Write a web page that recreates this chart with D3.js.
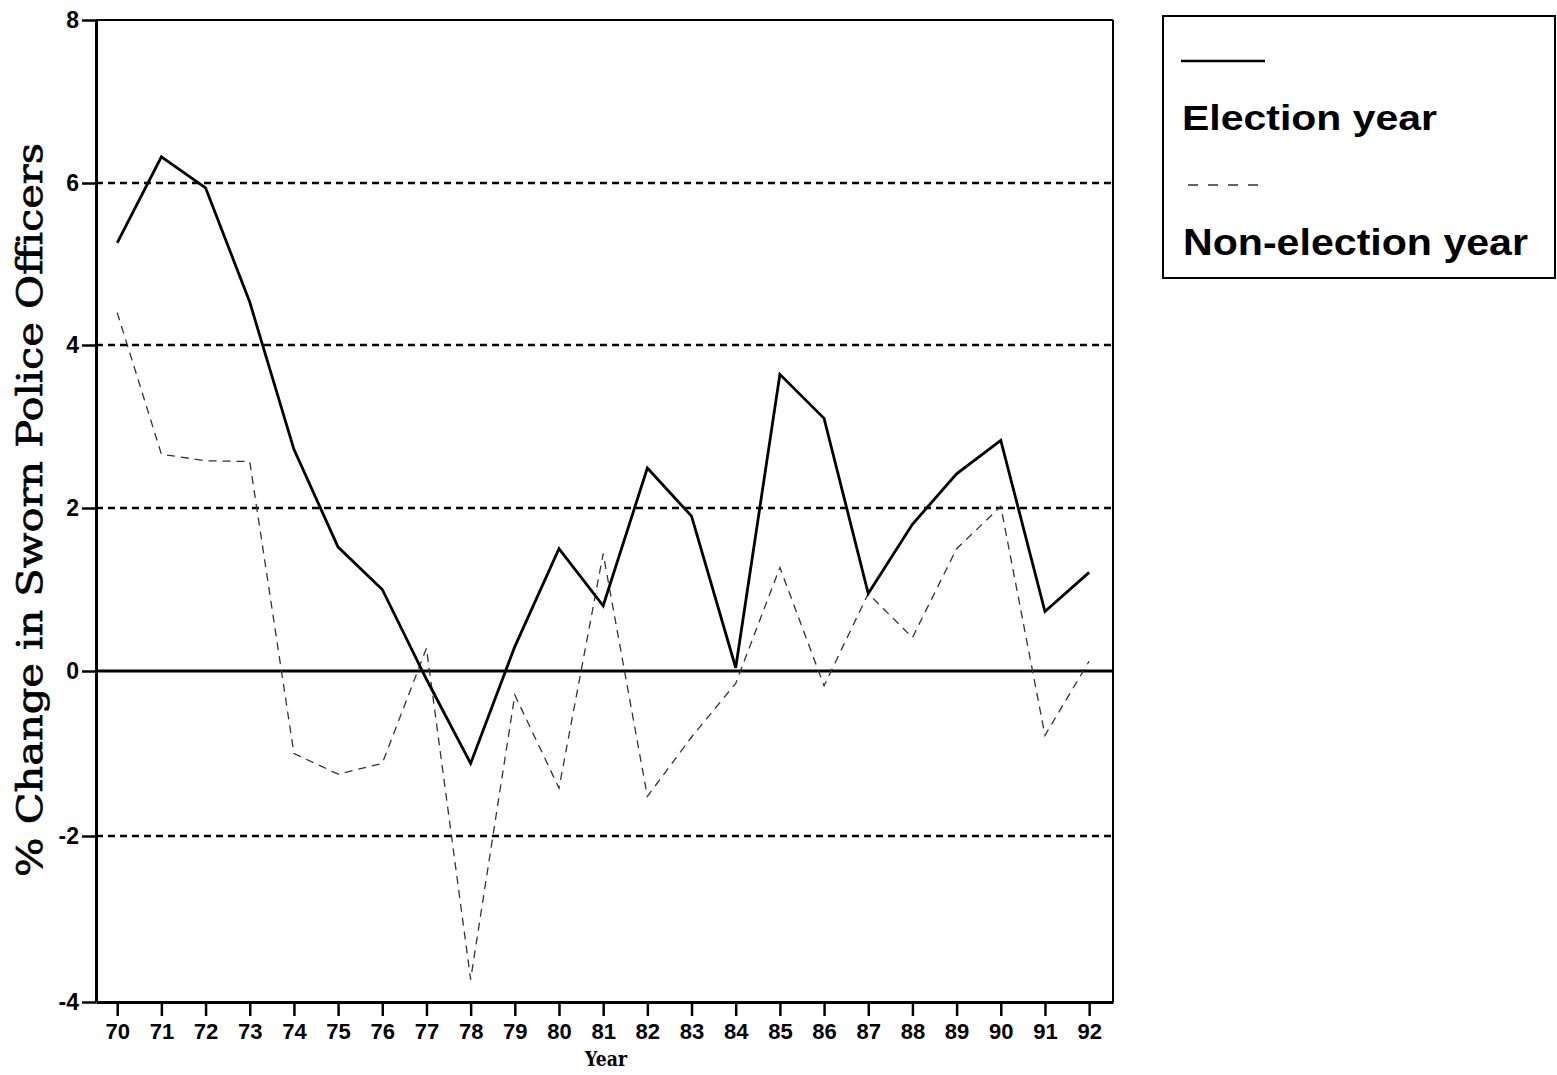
<!DOCTYPE html>
<html>
<head>
<meta charset="utf-8">
<script src="https://cdn.jsdelivr.net/npm/d3@7"></script>
<style>
  html, body { margin: 0; padding: 0; background: #fff; }
  svg { display: block; }
</style>
</head>
<body>
<svg id="chart" width="1557" height="1075"></svg>
<script>
// ---- data ----
const years = [70,71,72,73,74,75,76,77,78,79,80,81,82,83,84,85,86,87,88,89,90,91,92];
const electionYear = [5.26,6.32,5.94,4.53,2.72,1.52,1.0,-0.1,-1.12,0.3,1.5,0.8,2.49,1.9,0.04,3.64,3.1,0.95,1.8,2.42,2.83,0.73,1.21];
const nonElectionYear = [4.4,2.66,2.58,2.57,-1.0,-1.25,-1.12,0.28,-3.73,-0.29,-1.42,1.44,-1.52,-0.8,-0.15,1.27,-0.18,0.95,0.41,1.5,2.02,-0.78,0.12];
const yTicks = [-4,-2,0,2,4,6,8];
const gridValues = [-2,2,4,6];
const seriesNames = ["Election year", "Non-election year"];
const yTitle = "% Change in Sworn Police Officers";
const xTitle = "Year";

// ---- layout ----
const svg = d3.select("#chart");
const pLeft = 96, pRight = 1113, pTop = 20, pBottom = 1002;

const x = d3.scaleLinear().domain([69.52, 92.54]).range([pLeft, pRight]);
const y = d3.scaleLinear().domain([-4,-2,0,2,4,6,8]).range([1002,836,671,508,345,183,20]);

// gridlines (dotted)
svg.append("g").selectAll("line").data(gridValues).join("line")
  .attr("x1", pLeft).attr("x2", pRight)
  .attr("y1", d => y(d)).attr("y2", d => y(d))
  .attr("stroke", "#000").attr("stroke-width", 2.6)
  .attr("stroke-dasharray", "7,5");

// zero line
svg.append("line")
  .attr("x1", pLeft).attr("x2", pRight)
  .attr("y1", y(0)).attr("y2", y(0))
  .attr("stroke", "#000").attr("stroke-width", 3);

// frame
svg.append("line").attr("x1", pLeft).attr("x2", pRight).attr("y1", pTop).attr("y2", pTop)
  .attr("stroke", "#000").attr("stroke-width", 2);
svg.append("line").attr("x1", pRight).attr("x2", pRight).attr("y1", pTop).attr("y2", pBottom)
  .attr("stroke", "#000").attr("stroke-width", 2);

const fmt = d => String(d);

// y axis
const yAxis = d3.axisLeft(y).tickValues(yTicks).tickSize(14).tickSizeOuter(0).tickPadding(3).tickFormat(fmt);
const gy = svg.append("g").attr("transform", `translate(${pLeft},0)`).call(yAxis);
gy.select(".domain").attr("stroke-width", 3);
gy.selectAll(".tick line").attr("stroke-width", 2.5);
gy.selectAll(".tick text").attr("font-family", "Liberation Sans, Arial, sans-serif")
  .attr("font-size", 23).attr("font-weight", "bold").attr("fill", "#000");

// x axis
const xAxis = d3.axisBottom(x).tickValues(years).tickSize(14).tickSizeOuter(0).tickPadding(7).tickFormat(fmt);
const gx = svg.append("g").attr("transform", `translate(0,${pBottom})`).call(xAxis);
gx.select(".domain").attr("stroke-width", 3);
gx.selectAll(".tick line").attr("stroke-width", 2.5);
gx.selectAll(".tick text").attr("font-family", "Liberation Sans, Arial, sans-serif")
  .attr("font-size", 22).attr("font-weight", "bold").attr("fill", "#000");

// axis titles
svg.append("text")
  .attr("transform", "translate(42,510) rotate(-90)")
  .attr("text-anchor", "middle")
  .attr("font-family", "DejaVu Serif, serif")
  .attr("font-size", 36)
  .attr("stroke", "#000").attr("stroke-width", 0.7)
  .attr("textLength", 734).attr("lengthAdjust", "spacingAndGlyphs")
  .text(yTitle);

svg.append("text")
  .attr("x", 606).attr("y", 1066)
  .attr("text-anchor", "middle")
  .attr("font-family", "DejaVu Serif, serif")
  .attr("font-weight", "bold")
  .attr("font-size", 20)
  .attr("textLength", 42).attr("lengthAdjust", "spacingAndGlyphs")
  .text(xTitle);

// lines
const lineGen = d3.line().x((d,i) => x(years[i])).y(d => y(d));
svg.append("path").datum(nonElectionYear)
  .attr("d", lineGen).attr("fill", "none")
  .attr("stroke", "#333").attr("stroke-width", 1.3)
  .attr("stroke-dasharray", "8,6");
svg.append("path").datum(electionYear)
  .attr("d", lineGen).attr("fill", "none")
  .attr("stroke", "#000").attr("stroke-width", 2.8)
  .attr("stroke-linejoin", "miter");

// legend
const lg = svg.append("g");
lg.append("rect").attr("x", 1163).attr("y", 16).attr("width", 392).attr("height", 262)
  .attr("fill", "#fff").attr("stroke", "#000").attr("stroke-width", 2);
lg.append("line").attr("x1", 1181).attr("x2", 1265).attr("y1", 61).attr("y2", 61)
  .attr("stroke", "#000").attr("stroke-width", 2.5);
lg.append("text").attr("x", 1182).attr("y", 130)
  .attr("font-family", "Liberation Sans, Arial, sans-serif").attr("font-size", 35)
  .attr("font-weight", "bold")
  .attr("textLength", 255).attr("lengthAdjust", "spacingAndGlyphs")
  .text(seriesNames[0]);
lg.append("line").attr("x1", 1188).attr("x2", 1262).attr("y1", 185).attr("y2", 185)
  .attr("stroke", "#333").attr("stroke-width", 1.5).attr("stroke-dasharray", "10,10");
lg.append("text").attr("x", 1183).attr("y", 255)
  .attr("font-family", "Liberation Sans, Arial, sans-serif").attr("font-size", 36)
  .attr("font-weight", "bold")
  .attr("textLength", 345).attr("lengthAdjust", "spacingAndGlyphs")
  .text(seriesNames[1]);
</script>
</body>
</html>
